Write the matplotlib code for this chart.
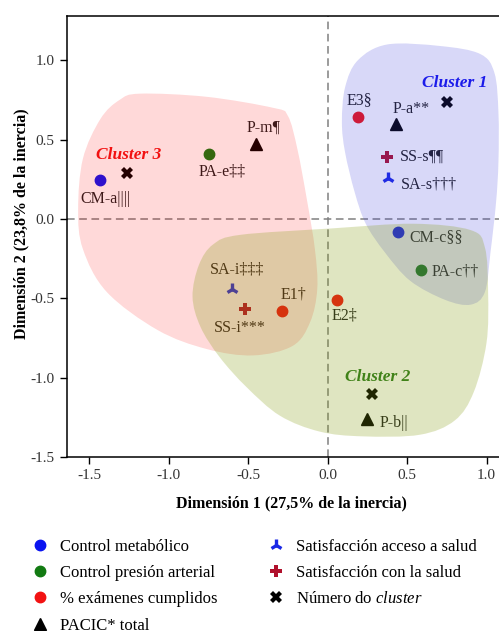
import numpy as np
import matplotlib
matplotlib.use("Agg")
import matplotlib.pyplot as plt
from matplotlib.path import Path
from matplotlib.patches import PathPatch

plt.rcParams['font.family'] = ['Liberation Serif', 'DejaVu Serif']
plt.rcParams['mathtext.fontset'] = 'custom'
plt.rcParams['mathtext.rm'] = 'Liberation Serif'
plt.rcParams['mathtext.it'] = 'Liberation Serif:italic'

# ---- data (coordinates) ----
cm_x = [-1.43, 0.445]
cm_y = [0.244, -0.08]
cm_lab = ['CM-a||||', 'CM-c§§']

pa_x = [-0.745, 0.585]
pa_y = [0.41, -0.32]
pa_lab = ['PA-e‡‡', 'PA-c††']

ex_x = [-0.29, 0.06, 0.19]
ex_y = [-0.58, -0.51, 0.64]
ex_lab = ['E1†', 'E2‡', 'E3§']

pc_x = [-0.45, 0.43, 0.25]
pc_y = [0.47, 0.60, -1.26]
pc_lab = ['P-m¶', 'P-a**', 'P-b||']

sa_x = [-0.60, 0.38]
sa_y = [-0.44, 0.26]
sa_lab = ['SA-i‡‡‡', 'SA-s†††']

ss_x = [-0.52, 0.375]
ss_y = [-0.57, 0.39]
ss_lab = ['SS-i***', 'SS-s¶¶']

cl_x = [0.75, 0.28, -1.26]
cl_y = [0.74, -1.105, 0.29]
cl_lab = ['Cluster 1', 'Cluster 2', 'Cluster 3']

# cluster hull outlines
blue_x = [0.376, 0.71, 0.96, 1.05, 1.075, 1.075, 1.06, 1.025, 0.99, 0.90, 0.74, 0.52,
          0.36, 0.24, 0.17, 0.11, 0.09, 0.11, 0.19]
blue_y = [1.10, 1.09, 1.04, 0.92, 0.67, 0.36, 0.105, -0.21, -0.46, -0.54, -0.51, -0.39,
          -0.21, -0.03, 0.17, 0.42, 0.61, 0.83, 1.00]
pink_x = [-1.18, -0.76, -0.34, -0.25, -0.19, -0.13, -0.08, -0.065, -0.11, -0.22, -0.47,
          -0.76, -1.07, -1.39, -1.54, -1.57, -1.54, -1.43, -1.31]
pink_y = [0.79, 0.77, 0.70, 0.65, 0.44, 0.12, -0.19, -0.44, -0.65, -0.80, -0.86,
          -0.82, -0.70, -0.46, -0.19, 0.06, 0.38, 0.63, 0.75]
green_x = [-0.55, 0.017, 0.54, 0.90, 0.99, 1.01, 1.00, 0.92, 0.80, 0.58, 0.22, -0.05,
           -0.30, -0.51, -0.68, -0.80, -0.85, -0.81, -0.72]
green_y = [-0.10, -0.06, -0.03, -0.07, -0.18, -0.46, -0.78, -1.09, -1.27, -1.36, -1.37,
           -1.34, -1.24, -1.06, -0.87, -0.68, -0.49, -0.29, -0.16]


def smooth_blob(ax, xs, ys, color, alpha):
    """ closed Catmull-Rom curve through the outline points """
    p = np.column_stack([xs, ys])
    n = len(p)
    verts = [p[0]]
    codes = [Path.MOVETO]
    for i in range(n):
        p0, p1, p2, p3 = p[i - 1], p[i], p[(i + 1) % n], p[(i + 2) % n]
        verts += [p1 + (p2 - p0) / 6, p2 - (p3 - p1) / 6, p2]
        codes += [Path.CURVE4] * 3
    ax.add_patch(PathPatch(Path(verts, codes), facecolor=color, edgecolor='none',
                           alpha=alpha, zorder=10))


fig = plt.figure(figsize=(4.99, 6.31), dpi=100)
ax = fig.add_axes([0.1343, 0.2758, 0.898, 0.699])
ax.set_xlim(-1.64, 1.18)
ax.set_ylim(-1.5, 1.28)

ax.axhline(0, color='#808080', lw=1.1, ls=(0, (5, 3)), zorder=1)
ax.axvline(0, color='#808080', lw=1.1, ls=(0, (5, 3)), zorder=1)

txt = '#1e1e1e'
series = [
    (cm_x, cm_y, cm_lab, 'Control metabólico', dict(marker='o', color='#0a14f0', ms=7.5)),
    (pa_x, pa_y, pa_lab, 'Control presión arterial', dict(marker='o', color='#127a12', ms=7.5)),
    (ex_x, ex_y, ex_lab, '% exámenes cumplidos', dict(marker='o', color='#f21212', ms=7.5)),
    (pc_x, pc_y, pc_lab, 'PACIC* total', dict(marker='^', color='black', ms=8)),
    (sa_x, sa_y, sa_lab, 'Satisfacción acceso a salud', dict(marker='2', color='#1a28e6', ms=9, mew=2.4)),
    (ss_x, ss_y, ss_lab, 'Satisfacción con la salud', dict(marker='P', color='#b0102c', ms=8, mew=0)),
    (cl_x, cl_y, cl_lab, 'Número do $\\mathit{cluster}$', dict(marker='X', color='black', ms=8, mew=0)),
]
for xs, ys, labs, name, st in series:
    ax.plot(xs, ys, ls='none', label=name, zorder=5, **st)

# point labels: offsets in pixels
offsets = {
    'CM-a||||': (5, -19, 'center'), 'CM-c§§': (11, -5, 'left'),
    'PA-e‡‡': (13, -18, 'center'), 'PA-c††': (11, -2, 'left'),
    'E1†': (12, 17, 'center'), 'E2‡': (7, -16, 'center'), 'E3§': (2, 17, 'center'),
    'P-m¶': (7, 17, 'center'), 'P-a**': (15, 15, 'center'), 'P-b||': (12, -4, 'left'),
    'SA-i‡‡‡': (5, 19, 'center'), 'SA-s†††': (13, -7, 'left'),
    'SS-i***': (-5, -19, 'center'), 'SS-s¶¶': (13, 0, 'left'),
}
for xs, ys, labs, name, st in series[:-1]:
    for x, y, lab in zip(xs, ys, labs):
        dx, dy, ha = offsets[lab]
        ax.annotate(lab, (x, y), xytext=(dx * 0.72, dy * 0.72), textcoords='offset points',
                    ha=ha, va='center', fontsize=11.5, color=txt, zorder=6)

cl_colors = ['#1414ee', '#2a7a1e', '#f01414']
cl_off = [(8, 19), (6, 17), (1, 18)]
for x, y, lab, c, (dx, dy) in zip(cl_x, cl_y, cl_lab, cl_colors, cl_off):
    ax.annotate(lab, (x, y), xytext=(dx * 0.72, dy * 0.72), textcoords='offset points',
                ha='center', va='center', fontsize=12.5, color=c, fontweight='bold',
                fontstyle='italic', zorder=6)

smooth_blob(ax, blue_x, blue_y, (60 / 255, 60 / 255, 220 / 255), 0.2)
smooth_blob(ax, pink_x, pink_y, (1.0, 0.0, 0.0), 0.15)
smooth_blob(ax, green_x, green_y, (131 / 255, 155 / 255, 11 / 255), 0.25)

ax.set_xticks([-1.5, -1.0, -0.5, 0.0, 0.5, 1.0])
ax.set_yticks([-1.5, -1.0, -0.5, 0.0, 0.5, 1.0])
ax.set_xticklabels(['-1.5', '-1.0', '-0.5', '0.0', '0.5', '1.0'])
ax.set_yticklabels(['-1.5', '-1.0', '-0.5', '0.0', '0.5', '1.0'])
ax.tick_params(direction='out', length=5, width=1, labelsize=11, labelcolor='#333333', pad=4)
for s in ax.spines.values():
    s.set_linewidth(1.1)

ax.set_xlabel('Dimensión 1 (27,5% de la inercia)', fontsize=11.5, fontweight='bold')
ax.set_ylabel('Dimensión 2 (23,8% de la inercia)', fontsize=11.5, fontweight='bold')
ax.xaxis.set_label_coords(0.5, -0.088)
ax.yaxis.set_label_coords(-0.083, 0.528)

fig.legend(loc='upper left', bbox_to_anchor=(0.05, 0.157), ncol=2, frameon=False,
           fontsize=12, handlelength=1.0, handletextpad=0.7, columnspacing=3.0,
           labelspacing=0.62, borderaxespad=0)

fig.savefig('out.png', dpi=100)
